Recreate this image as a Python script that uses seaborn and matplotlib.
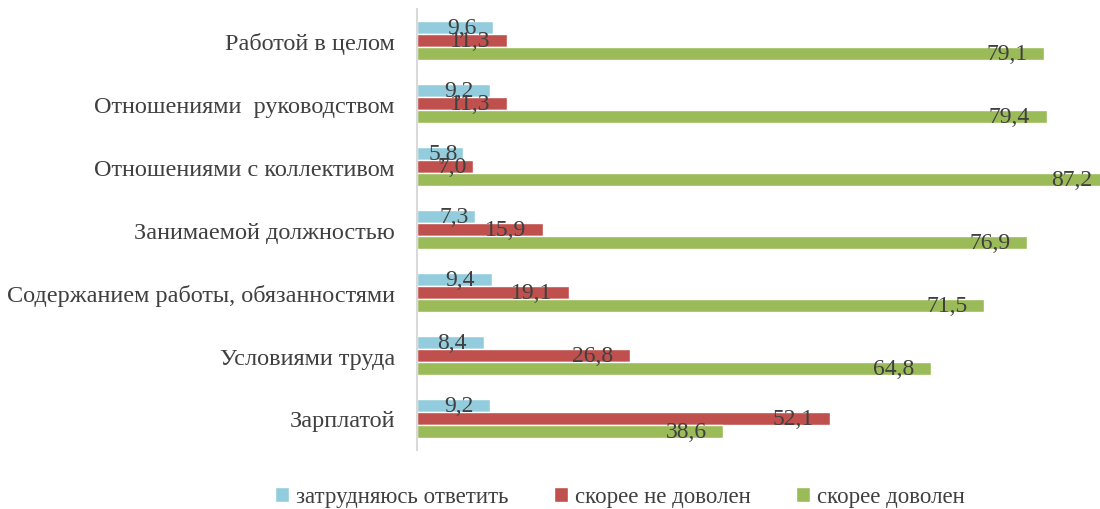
import matplotlib
matplotlib.use("Agg")
import matplotlib.pyplot as plt
import seaborn as sns
import pandas as pd
from matplotlib.patches import Patch

categories = ["Работой в целом", "Отношениями  руководством", "Отношениями с коллективом",
              "Занимаемой должностью", "Содержанием работы, обязанностями",
              "Условиями труда", "Зарплатой"]
series_names = ["затрудняюсь ответить", "скорее не доволен", "скорее доволен"]
hard_to_say = [9.6, 9.2, 5.8, 7.3, 9.4, 8.4, 9.2]
not_satisfied = [11.3, 11.3, 7.0, 15.9, 19.1, 26.8, 52.1]
satisfied = [79.1, 79.4, 87.2, 76.9, 71.5, 64.8, 38.6]
colors = ["#93CDDD", "#C0504D", "#9BBB59"]

rows = []
for name, vals in zip(series_names, [hard_to_say, not_satisfied, satisfied]):
    for c, v in zip(categories, vals):
        rows.append({"cat": c, "val": v, "series": name})
df = pd.DataFrame(rows)

sns.set_style("white")
plt.rcParams['font.family'] = ['Liberation Serif', 'DejaVu Serif']

fig = plt.figure(figsize=(11, 5.1), dpi=100)
ax = fig.add_axes([417/1100, 1 - 451/510, 1 - 417/1100, 441/510])
sns.barplot(data=df, y="cat", x="val", hue="series", orient="h",
            palette=colors, saturation=1, width=0.62, ax=ax, legend=False,
            order=categories, hue_order=series_names)

for cont in ax.containers:
    for bar in cont:
        w = bar.get_width()
        yc = bar.get_y() + bar.get_height() / 2
        pad = -12 if w > 8 else -4
        ax.annotate(f"{w:.1f}".replace(".", ","), xy=(w, yc), xytext=(pad, 0),
                    textcoords="offset points", ha="right", va="center",
                    fontsize=17, color="#404040", annotation_clip=False)

ax.set_xlim(0, 86.1)
ax.set_xlabel("")
ax.set_ylabel("")
ax.set_xticks([])
ax.tick_params(axis="y", length=0, pad=16, labelsize=17.5, labelcolor="#404040")
for s in ["top", "right", "bottom"]:
    ax.spines[s].set_visible(False)
ax.spines["left"].set_color("#D9D9D9")
ax.spines["left"].set_linewidth(1.5)

handles = [Patch(facecolor=c, label=n) for c, n in zip(colors, series_names)]
fig.legend(handles=handles, loc="center", bbox_to_anchor=(620/1100, 1 - 498/510),
           ncol=3, frameon=False, fontsize=16.5, handlelength=0.6, handleheight=0.6,
           handletextpad=0.3, columnspacing=2.0, labelcolor="#404040")

fig.savefig("out.png", dpi=100)
